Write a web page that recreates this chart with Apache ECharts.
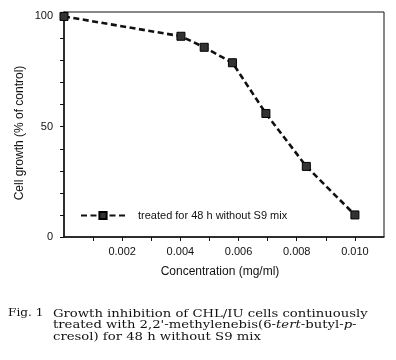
<!DOCTYPE html>
<html>
<head>
<meta charset="utf-8">
<script src="https://cdn.jsdelivr.net/npm/echarts@6/dist/echarts.min.js"></script>
<style>html,body{margin:0;padding:0;background:#fff;}#c{width:396px;height:360px;}</style>
</head>
<body>
<div id="c"></div>
<script>
// Data
var concentration = [0, 0.00402, 0.00482, 0.00579, 0.00694, 0.00833, 0.0100];
var cellGrowth = [100, 91, 86, 79, 56, 32, 10];
var seriesName = 'treated for 48 h without S9 mix';
var xTickValues = [0.001, 0.002, 0.003, 0.004, 0.005, 0.006, 0.007, 0.008, 0.009, 0.010];
var xLabelValues = [0.002, 0.004, 0.006, 0.008, 0.010];
var yTickValues = [0, 10, 20, 30, 40, 50, 60, 70, 80, 90, 100];
var yLabelValues = [0, 50, 100];
var xTitle = 'Concentration (mg/ml)';
var yTitle = 'Cell growth (% of control)';

var chart = echarts.init(document.getElementById('c'), null, {renderer: 'canvas'});
var sans = '"Liberation Sans", Arial, sans-serif';
var serif = '"DejaVu Serif", serif';
chart.setOption({
  backgroundColor: '#fff',
  animation: false,
  grid: {left: 64, top: 12, right: 12, bottom: 123, show: true, borderColor: '#111', borderWidth: 1, backgroundColor: 'transparent'},
  legend: {
    left: 80, top: 210, padding: 0, itemWidth: 44, itemHeight: 9,
    data: [seriesName],
    textStyle: {fontFamily: sans, fontSize: 11, color: '#111', padding: [0, 0, 0, 8]}
  },
  xAxis: {
    type: 'value', min: 0, max: 0.011,
    axisLine: {lineStyle: {color: '#111', width: 1.5}},
    axisTick: {show: true, length: 4, customValues: xTickValues, lineStyle: {color: '#111', width: 1}},
    axisLabel: {customValues: xLabelValues, margin: 9, fontFamily: sans, fontSize: 11, color: '#111',
      formatter: function (v) { return v.toFixed(3); }},
    splitLine: {show: false}
  },
  yAxis: {
    type: 'value', min: 0, max: 102,
    axisLine: {show: true, lineStyle: {color: '#111', width: 1.5}},
    axisTick: {show: true, length: 4, customValues: yTickValues, lineStyle: {color: '#111', width: 1}},
    axisLabel: {customValues: yLabelValues, margin: 11, fontFamily: sans, fontSize: 11, color: '#111'},
    splitLine: {show: false}
  },
  series: [{
    name: seriesName,
    type: 'line',
    data: concentration.map(function (x, i) { return [x, cellGrowth[i]]; }),
    symbol: 'rect', symbolSize: 8,
    lineStyle: {color: '#111', width: 2.6, type: [6, 3.5]},
    itemStyle: {color: '#333', borderColor: '#000', borderWidth: 1}
  }],
  graphic: [
    {type: 'text', x: 20, y: 133, rotation: Math.PI / 2,
      style: {text: yTitle, font: '12px ' + sans, fill: '#111', textAlign: 'center', textVerticalAlign: 'middle'}},
    {type: 'text', x: 220, y: 272,
      style: {text: xTitle, font: '12px ' + sans, fill: '#111', textAlign: 'center', textVerticalAlign: 'middle'}},
    {type: 'text', x: 8, y: 308, scaleX: 1.1,
      style: {text: 'Fig. 1', font: '11px ' + serif, fill: '#111', textVerticalAlign: 'top'}},
    {type: 'text', x: 53, y: 308, scaleX: 1.2,
      style: {
        text: 'Growth inhibition of CHL/IU cells continuously\ntreated with 2,2\'-methylenebis(6-{i|tert}-butyl-{i|p}-\ncresol) for 48 h without S9 mix',
        font: '11px ' + serif, fill: '#111', lineHeight: 11.5, textVerticalAlign: 'top',
        rich: {i: {fontStyle: 'italic', fontFamily: serif, fontSize: 11, fill: '#111', lineHeight: 11.5}}
      }}
  ]
});
</script>
</body>
</html>
